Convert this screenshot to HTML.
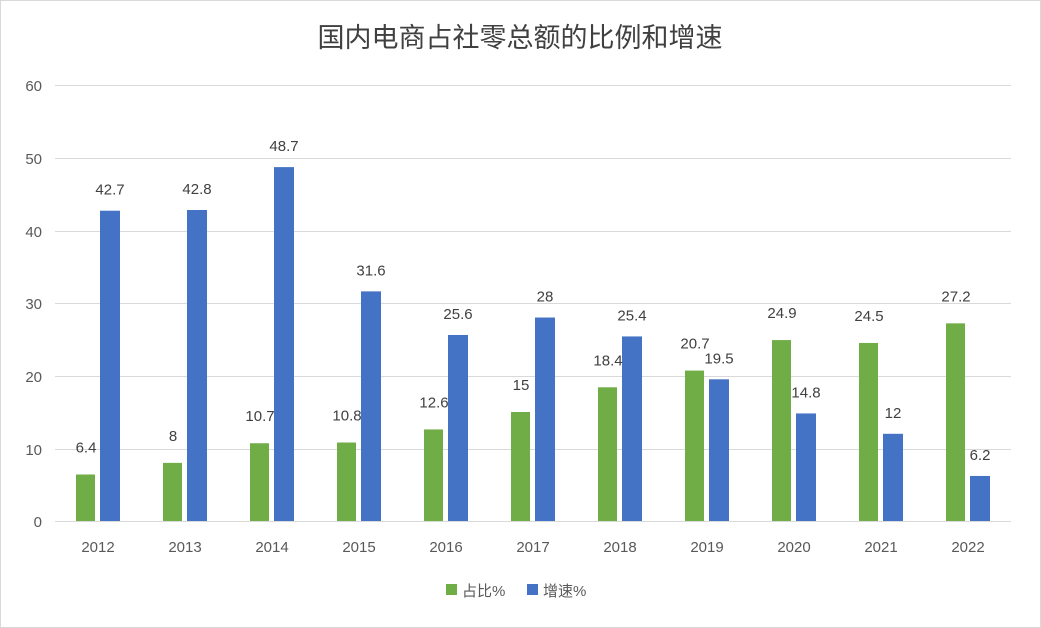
<!DOCTYPE html>
<html><head><meta charset="utf-8"><style>
body{margin:0;background:#fff;}
svg{display:block;font-family:"Liberation Sans","Noto Sans CJK SC",sans-serif;}
</style></head><body>
<svg width="1041" height="628" viewBox="0 0 1041 628">
<rect x="0.5" y="0.5" width="1040" height="627" fill="#fff" stroke="#d9d9d9"/>
<text x="520" y="47" text-anchor="middle" font-size="27" fill="#404040" font-family="'Noto Sans CJK SC',sans-serif">国内电商占社零总额的比例和增速</text>
<g stroke="#d9d9d9" stroke-width="1">
<line x1="55" x2="1011" y1="85.5" y2="85.5"/>
<line x1="55" x2="1011" y1="158.5" y2="158.5"/>
<line x1="55" x2="1011" y1="231.5" y2="231.5"/>
<line x1="55" x2="1011" y1="303.5" y2="303.5"/>
<line x1="55" x2="1011" y1="376.5" y2="376.5"/>
<line x1="55" x2="1011" y1="449.5" y2="449.5"/>
<line x1="55" x2="1011" y1="521.5" y2="521.5"/>
</g>
<g font-size="15" fill="#595959" text-anchor="end">
<text x="42" y="91">60</text><text x="42" y="164">50</text><text x="42" y="237">40</text>
<text x="42" y="309">30</text><text x="42" y="382">20</text><text x="42" y="455">10</text><text x="42" y="527">0</text>
</g>
<g id="bars"></g>
<g font-size="15" fill="#595959" text-anchor="middle" id="xl"></g>
<g font-size="15" fill="#404040" text-anchor="middle" id="dl"></g>
<rect x="446" y="584" width="11" height="11" fill="#70ad47"/>
<text x="462" y="596" font-size="15" fill="#595959">占比%</text>
<rect x="527" y="584" width="11" height="11" fill="#4472c4"/>
<text x="543" y="596" font-size="15" fill="#595959">增速%</text>
<script>
var yrs=[2012,2013,2014,2015,2016,2017,2018,2019,2020,2021,2022];
var g=[6.4,8,10.7,10.8,12.6,15,18.4,20.7,24.9,24.5,27.2];
var b=[42.7,42.8,48.7,31.6,25.6,28,25.4,19.5,14.8,12,6.2];
var ns="http://www.w3.org/2000/svg",s=436/60;
function el(p,t,a,txt){var e=document.createElementNS(ns,t);for(var k in a)e.setAttribute(k,a[k]);if(txt!==undefined)e.textContent=txt;document.getElementById(p).appendChild(e);}
for(var i=0;i<11;i++){var c=98+i*87;
var hg=g[i]*s,hb=b[i]*s;
el("bars","rect",{x:c-22,y:521-hg,width:19,height:hg,fill:"#70ad47"});
el("bars","rect",{x:c+2,y:521-hb,width:20,height:hb,fill:"#4472c4"});
el("xl","text",{x:c,y:552},yrs[i]);
el("dl","text",{x:c-12,y:521-hg-22},g[i]);
el("dl","text",{x:c+12,y:521-hb-16},b[i]);
}
</script>
</svg>
</body></html>
